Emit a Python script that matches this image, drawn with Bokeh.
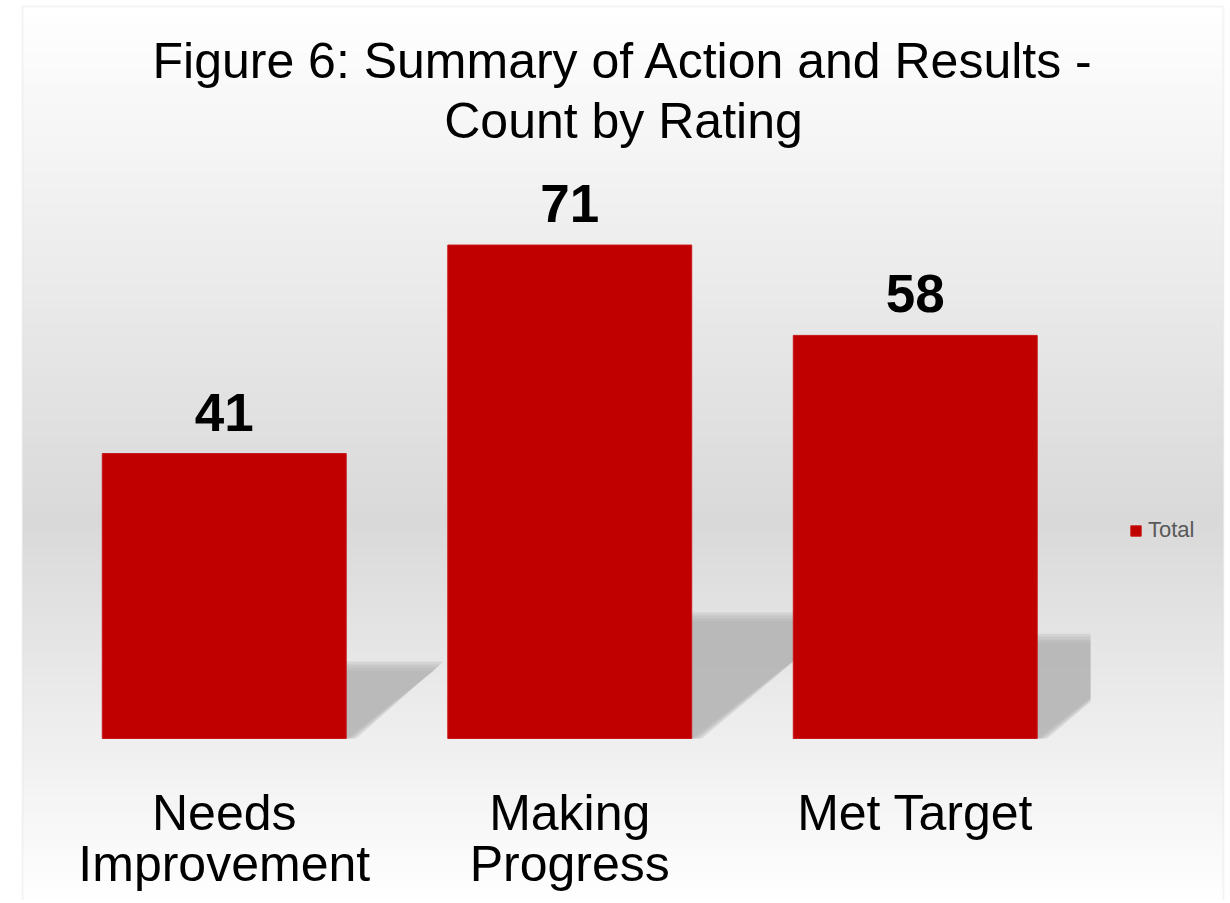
from bokeh.plotting import figure
from bokeh.models import (ColumnDataSource, LabelSet, Label, BoxAnnotation, Legend,
                          LegendItem, Range1d)
from bokeh.core.properties import value
from bokeh.embed import file_html
from bokeh.resources import INLINE

# ---- data ----
categories = ["Needs\nImprovement", "Making\nProgress", "Met Target"]
counts = [41, 71, 58]
series_name = "Total"
title_lines = ["Figure 6: Summary of Action and Results -", "Count by Rating"]

# ---- layout (pixel geometry of the canvas) ----
W, H = 1226, 900
X0_PX = 51        # left edge of first category slot
SLOT_PX = 345.5   # width of one category slot
Y0_PX = 738       # baseline (value 0)
PPY = 6.95        # pixels per count
X_CLIP_PX = 1090  # right end of the plot area (shadow clip)
FONT = "Liberation Sans"
BAR_COLOR = "#C00000"
TXT_SHIFT = 17    # baseline correction for text rendering

x_rng = Range1d(-X0_PX / SLOT_PX, (W - X0_PX) / SLOT_PX)
y_rng = Range1d(-(H - Y0_PX) / PPY, Y0_PX / PPY)

p = figure(width=W, height=H, x_range=x_rng, y_range=y_rng,
           output_backend="svg", toolbar_location=None,
           min_border=0, min_border_left=0, min_border_right=0,
           min_border_top=0, min_border_bottom=0)
p.axis.visible = False
p.grid.visible = False
p.background_fill_color = "white"
p.border_fill_color = "white"
p.outline_line_color = None


def px_to_y(py):
    return (Y0_PX - py) / PPY


def px_to_x(px):
    return (px - X0_PX) / SLOT_PX


# background gradient (white -> light gray -> white)
n_bands = 120
for k in range(n_bands):
    top = k * H / n_bands
    bot = (k + 1) * H / n_bands + 1
    py = (top + bot) / 2
    if py < 520:
        t = max(0.0, (py - 6) / 514)
        g = 255 - 38 * t
    else:
        t = min(1.0, (py - 520) / 383)
        g = 217 + 38 * t
    gi = int(round(g))
    col = "#%02x%02x%02x" % (gi, gi, gi)
    p.add_layout(BoxAnnotation(left=22, right=1223, top=max(top, 6), bottom=bot,
                               left_units="canvas", right_units="canvas",
                               top_units="canvas", bottom_units="canvas",
                               fill_color=col, fill_alpha=1, line_color=None,
                               level="underlay"))
# chart border
p.add_layout(BoxAnnotation(left=22, right=1223, top=6, bottom=H + 10,
                           left_units="canvas", right_units="canvas",
                           top_units="canvas", bottom_units="canvas",
                           fill_color=None, fill_alpha=0, line_color="#D9D9D9",
                           line_width=2, level="underlay"))

xpos = [i + 0.5 for i in range(len(categories))]
bar_w = 0.706
hw = bar_w / 2
x_clip = px_to_x(X_CLIP_PX)


def clip_right(xs, ys, xc):
    """Clip a polygon against the vertical line x = xc (keep x <= xc)."""
    out_x, out_y = [], []
    n = len(xs)
    for i in range(n):
        x1, y1 = xs[i], ys[i]
        x2, y2 = xs[(i + 1) % n], ys[(i + 1) % n]
        in1, in2 = x1 <= xc, x2 <= xc
        if in1:
            out_x.append(x1); out_y.append(y1)
        if in1 != in2:
            t = (xc - x1) / (x2 - x1)
            out_x.append(xc); out_y.append(y1 + t * (y2 - y1))
    return out_x, out_y


# soft shadows (derived from the bar values)
for e in [10, 7, 4, 1]:
    xs, ys = [], []
    for c, v in zip(xpos, counts):
        sh = 0.235 * v
        dx = sh * PPY * 1.3 / SLOT_PX
        ex = e / SLOT_PX
        top = sh + e / PPY
        px_ = [c - hw, c + hw + ex, c + hw + dx + ex, c - hw + dx]
        py_ = [0, 0, top, top]
        cx, cy = clip_right(px_, py_, x_clip)
        xs.append(cx)
        ys.append(cy)
    p.patches(xs, ys, fill_color="#ADADAD", fill_alpha=0.3, line_color=None)

# bars
src = ColumnDataSource(dict(x=xpos, cat=categories, val=counts,
                            lab=[str(v) for v in counts]))
bars = p.vbar(x="x", top="val", width=bar_w, bottom=0, source=src,
              fill_color=BAR_COLOR, line_color="#C81818", line_width=1)

# value labels
p.add_layout(LabelSet(x="x", y="val", text="lab", source=src, text_align="center",
                      text_baseline="alphabetic", y_offset=23, text_font=value(FONT),
                      text_font_size="53px", text_font_style="bold", text_color="black"))

# category labels (one text per line, under each bar)
lx, ly, lt = [], [], []
for c, cat in zip(xpos, categories):
    for j, line in enumerate(cat.split("\n")):
        lx.append(c)
        ly.append(px_to_y(829 + 51 * j - TXT_SHIFT))
        lt.append(line)
p.text(x=lx, y=ly, text=lt, text_align="center", text_baseline="alphabetic",
       text_font=value(FONT), text_font_size="50px", text_color="black")

# legend
legend = Legend(items=[LegendItem(label=series_name, renderers=[bars])],
                location=(1129, H - 543), padding=0, margin=0, spacing=0,
                glyph_width=13, glyph_height=13, label_standoff=6,
                label_text_font=FONT, label_text_font_size="22px",
                label_text_color="#595959", background_fill_alpha=0,
                border_line_color=None)
p.add_layout(legend)

# title (two centred lines)
for line, py in zip(title_lines, [77, 137]):
    p.add_layout(Label(x=px_to_x(623), y=px_to_y(py - TXT_SHIFT), text=line,
                       text_align="center", text_baseline="alphabetic", text_font=FONT,
                       text_font_size="50px", text_color="black"))

open("out.html", "w").write(file_html(p, INLINE))
